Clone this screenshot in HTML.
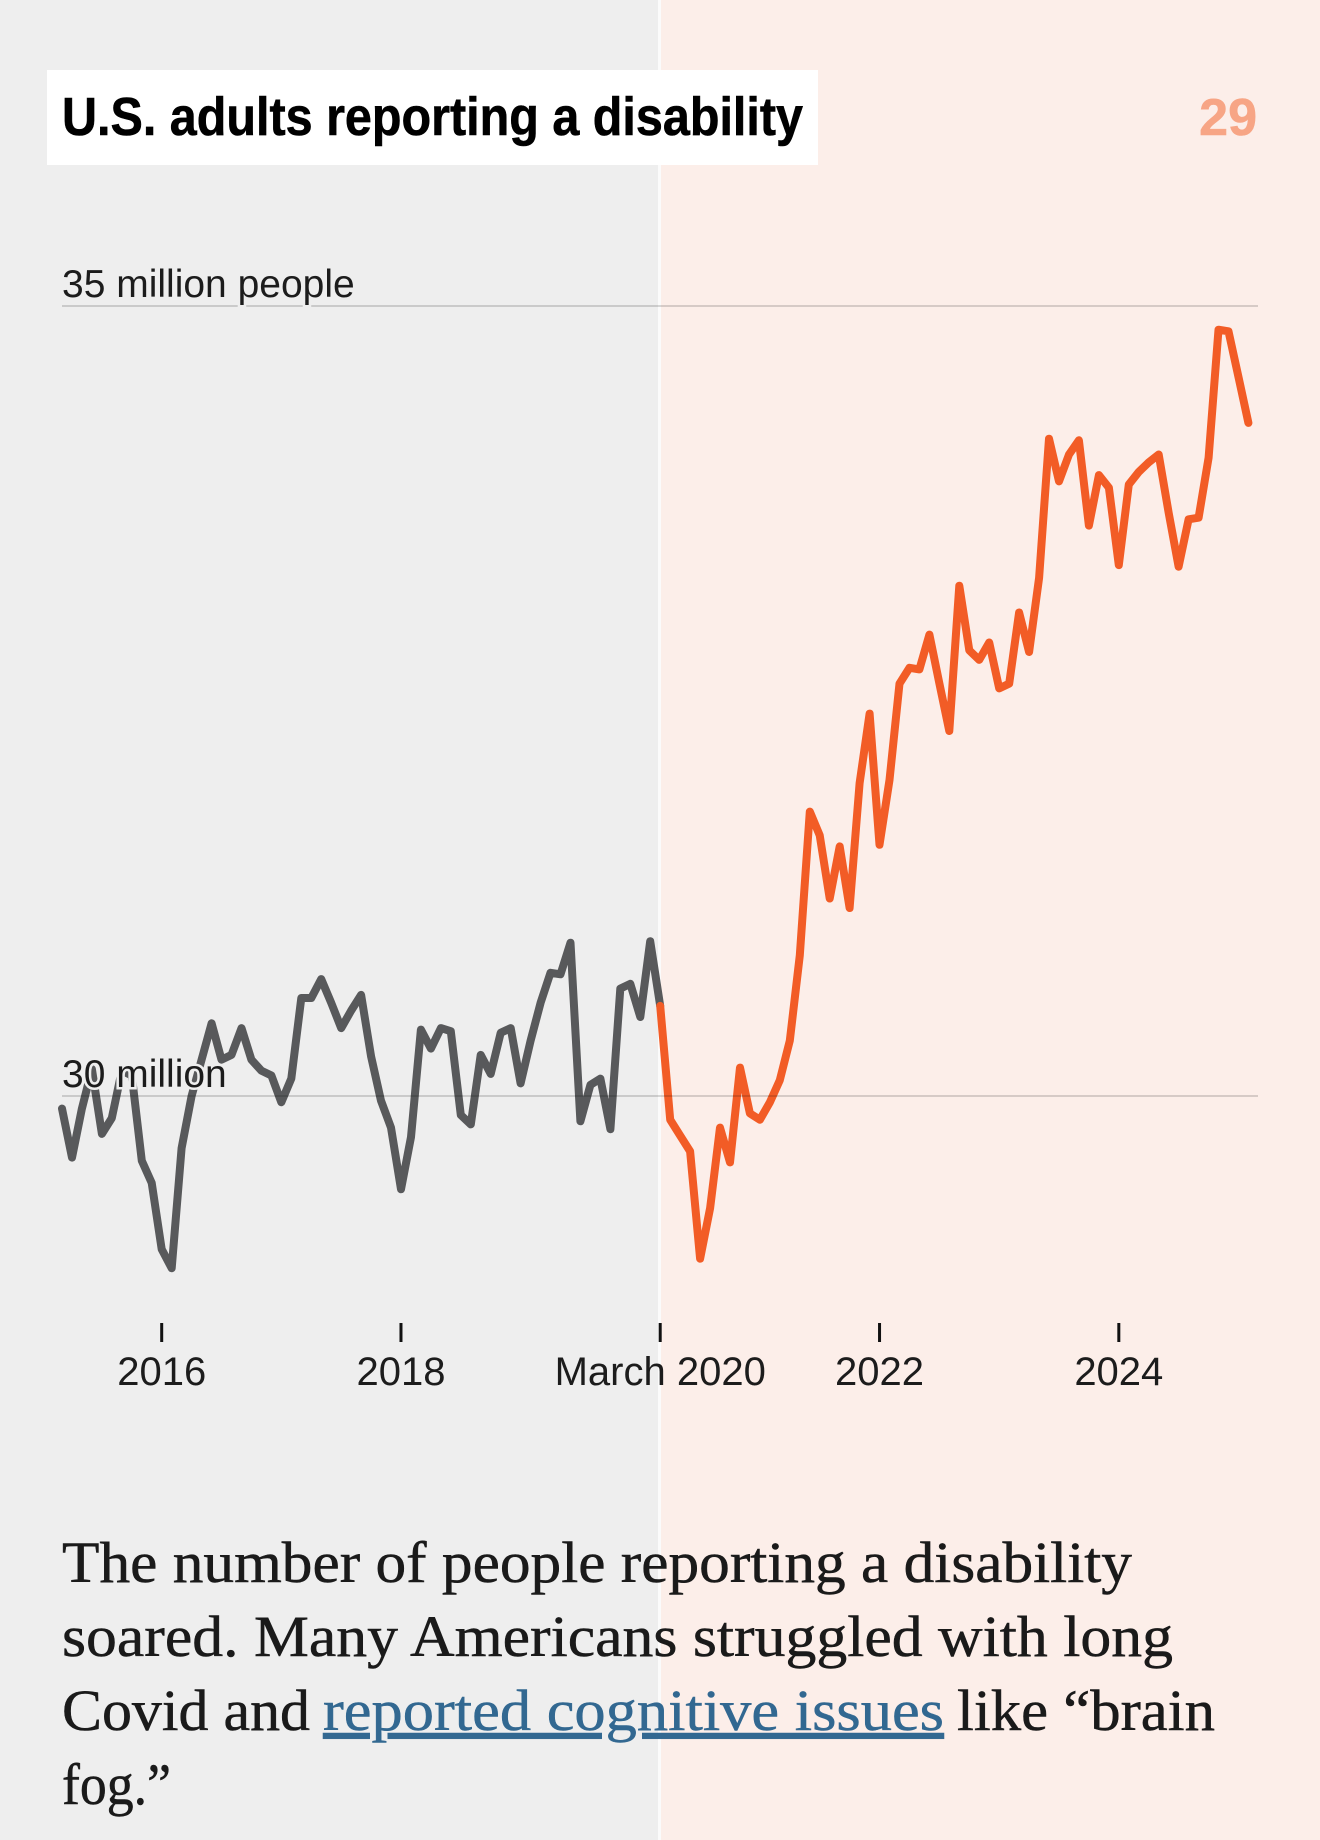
<!DOCTYPE html>
<html lang="en">
<head>
<meta charset="utf-8">
<title>U.S. adults reporting a disability</title>
<style>
html,body{margin:0;padding:0;background:#eeeeee;}
body{width:1320px;height:1840px;overflow:hidden;}
svg{display:block;}
.sans{font-family:"Liberation Sans",sans-serif;}
.serif{font-family:"Liberation Serif",serif;}
.body-line{font-size:58px;fill:#1a1a1a;stroke:#1a1a1a;stroke-width:0.5px;}
.link{fill:#326891;stroke:#326891;text-decoration:underline;cursor:pointer;}
</style>
</head>
<body>
<svg id="chart" width="1320" height="1840" viewBox="0 0 1320 1840" xmlns="http://www.w3.org/2000/svg">
  <rect x="0" y="0" width="658" height="1840" fill="#eeeeee"/>
  <rect x="658" y="0" width="3" height="1840" fill="#fbfbfb"/>
  <rect x="661" y="0" width="659" height="1840" fill="#fceee9"/>

  <g id="plot"></g>

  <rect x="47" y="70" width="771" height="95" fill="#ffffff"/>
  <text class="sans" x="62" y="135" font-size="54" font-weight="700" fill="#000000" stroke="#000000" stroke-width="0.6" textLength="741" lengthAdjust="spacingAndGlyphs">U.S. adults reporting a disability</text>
  <text class="sans" x="1257" y="135" font-size="52" font-weight="700" fill="#f7a585" stroke="#f7a585" stroke-width="0.6" text-anchor="end">29</text>

  <g>
    <text class="serif body-line" x="62" y="1582" textLength="1070" lengthAdjust="spacingAndGlyphs">The number of people reporting a disability</text>
    <text class="serif body-line" x="62" y="1656" textLength="1111" lengthAdjust="spacingAndGlyphs">soared. Many Americans struggled with long</text>
    <text class="serif body-line" x="62" y="1730" textLength="248" lengthAdjust="spacingAndGlyphs">Covid and</text>
    <text class="serif body-line link" x="323" y="1730" textLength="621" lengthAdjust="spacingAndGlyphs">reported cognitive issues</text>
    <text class="serif body-line" x="957" y="1730" textLength="258" lengthAdjust="spacingAndGlyphs">like “brain</text>
    <text class="serif body-line" x="62" y="1804" textLength="109" lengthAdjust="spacingAndGlyphs">fog.”</text>
  </g>
</svg>
<script>
// Millions of U.S. adults reporting a disability, monthly from March 2015.
const beforeValues = [
  29.92,29.61,29.92,30.17,29.76,29.86,30.16,30.13,29.59,29.45,
  29.03,28.91,29.67,30.00,30.23,30.46,30.23,30.26,30.43,30.23,
  30.16,30.13,29.96,30.11,30.62,30.62,30.74,30.59,30.43,30.54,
  30.64,30.25,29.97,29.80,29.41,29.74,30.42,30.30,30.43,30.41,
  29.88,29.82,30.26,30.14,30.40,30.43,30.08,30.35,30.59,30.78,
  30.77,30.97,29.84,30.07,30.11,29.79,30.68,30.71,30.50,30.98,
  30.57
];
const afterValues = [
  30.57,29.85,29.75,29.65,28.97,29.29,29.80,29.58,30.18,29.89,
  29.85,29.96,30.10,30.35,30.89,31.80,31.65,31.25,31.58,31.19,
  31.98,32.42,31.59,32.00,32.61,32.71,32.70,32.92,32.61,32.31,
  33.23,32.82,32.76,32.87,32.58,32.61,33.06,32.81,33.28,34.16,
  33.89,34.06,34.15,33.61,33.93,33.85,33.36,33.87,33.95,34.01,
  34.06,33.69,33.35,33.65,33.66,34.04,34.85,34.84,34.55,34.26
];
const afterStartMonth = 60;
const xTickMonths = [10,34,60,82,106];
const xTickLabels = ['2016','2018','March 2020','2022','2024'];
const yTickValues = [35,30];
const yTickLabels = ['35 million people','30 million'];

const svgNS = 'http://www.w3.org/2000/svg';
const plot = document.getElementById('plot');

function xScale(month){ return 62 + month * 9.97; }
function yScale(value){ return 1096 - (value - 30) * 158; }

function make(tag, attrs){
  const el = document.createElementNS(svgNS, tag);
  for (const k in attrs) el.setAttribute(k, attrs[k]);
  plot.appendChild(el);
  return el;
}
function pointsFor(values, startMonth){
  return values.map(function(v, i){
    return xScale(startMonth + i).toFixed(1) + ',' + yScale(v).toFixed(1);
  }).join(' ');
}

const beforeLine = make('polyline', {
  points: pointsFor(beforeValues, 0), fill: 'none', stroke: '#58595b',
  'stroke-width': 8, 'stroke-linejoin': 'round', 'stroke-linecap': 'round'
});



const afterLine = make('polyline', {
  points: pointsFor(afterValues, afterStartMonth), fill: 'none', stroke: '#f25c26',
  'stroke-width': 8, 'stroke-linejoin': 'round', 'stroke-linecap': 'round'
});



yTickValues.forEach(function(v, i){
  const grid = make('line', {
    x1: 62, x2: 1258, y1: yScale(v), y2: yScale(v),
    stroke: '#000000', 'stroke-opacity': 0.2, 'stroke-width': 1.5
  });
  
  
});
yTickValues.forEach(function(v, i){
  const label = make('text', {
    x: 62, y: yScale(v) - 9, 'font-size': 39, fill: '#1c1c1c',
    stroke: '#eeeeee', 'stroke-width': 5, 'paint-order': 'stroke',
    'font-family': '"Liberation Sans", sans-serif'
  });
  label.textContent = yTickLabels[i];
  
  
});

xTickMonths.forEach(function(m, i){
  const tick = make('line', {
    x1: xScale(m), x2: xScale(m), y1: 1323, y2: 1342,
    stroke: '#111111', 'stroke-width': 3
  });
  
  
  const label = make('text', {
    x: xScale(m), y: 1385, 'font-size': 40, fill: '#1c1c1c', 'text-anchor': 'middle',
    'font-family': '"Liberation Sans", sans-serif'
  });
  label.textContent = xTickLabels[i];
  
  
});
</script>
</body>
</html>
